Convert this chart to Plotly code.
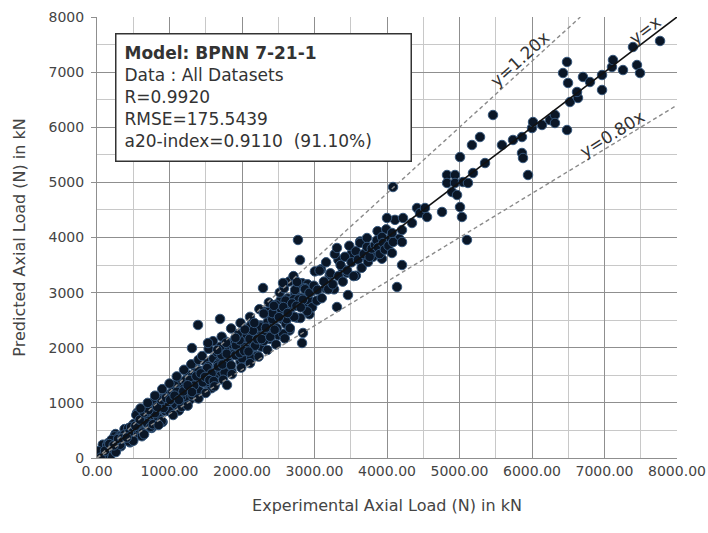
import plotly.graph_objects as go

# Dense band of observations, 0-3000 kN (experimental vs predicted)
exp_band = [30, 55, 80, 105, 130, 155, 180, 205, 230, 255, 280, 305, 330, 355, 380, 405, 430, 455, 480, 505,
            530, 555, 580, 605, 630, 655, 680, 705, 730, 755, 780, 805, 830, 855, 880, 905, 930, 955, 980, 1005,
            1030, 1055, 1080, 1105, 1130, 1155, 1180, 1205, 1230, 1255, 1280, 1305, 1330, 1355, 1380, 1405, 1430, 1455, 1480, 1505,
            1530, 1555, 1580, 1605, 1630, 1655, 1680, 1705, 1730, 1755, 1780, 1805, 1830, 1855, 1880, 1905, 1930, 1955, 1980, 2005,
            2030, 2055, 2080, 2105, 2130, 2155, 2180, 2205, 2230, 2255, 2280, 2305, 2330, 2355, 2380, 2405, 2430, 2455, 2480, 2505,
            2530, 2555, 2580, 2605, 2630, 2655, 2680, 2705, 2730, 2755, 2780, 2805, 2830, 2855, 2880, 2905, 2930, 2955, 2980, 3005,
            42, 92, 142, 192, 242, 292, 342, 392, 442, 492, 542, 592, 642, 692, 742, 792, 842, 892, 942, 992,
            1017, 1067, 1117, 1167, 1217, 1267, 1317, 1367, 1417, 1467, 1517, 1567, 1617, 1667, 1717, 1767, 1817, 1867, 1917, 1967,
            2017, 2067, 2117, 2167, 2217, 2267, 2317, 2367, 2417, 2467, 2517, 2567, 2617, 2667, 2717, 2767, 2817, 2867, 2917, 2967]
pred_band = [93, 10, 242, 78, 139, 272, 27, 250, 158, 435, 271, 395, 213, 382, 524, 351, 538, 284, 480, 617,
             390, 821, 524, 689, 462, 865, 708, 635, 884, 545, 1018, 777, 886, 729, 1076, 653, 1056, 857, 1148, 851,
             865, 1235, 975, 1240, 860, 1365, 1045, 1265, 1200, 1510, 1055, 1470, 1255, 1385, 1605, 1225, 1520, 1395, 1765, 1355,
             1662, 1555, 1266, 1803, 1531, 1919, 1730, 1490, 1895, 1738, 2110, 1673, 1913, 1574, 2095, 1922, 1880, 2252, 1749, 2121,
             2011, 2240, 1839, 2161, 2426, 2044, 2402, 1853, 2230, 2403, 2095, 2657, 2256, 2466, 2158, 2683, 2467, 2362, 2684, 2227,
             2853, 2517, 2656, 2434, 2896, 2313, 2851, 2572, 2958, 2546, 2913, 2539, 3172, 2798, 2899, 3152, 2607, 3050, 2828, 3385,
             5, 69, 240, 230, 392, 367, 365, 347, 299, 552, 780, 667, 830, 629, 554, 767, 729, 667, 854, 854,
             1115, 1319, 1131, 929, 1105, 1253, 1135, 1591, 1585, 1467, 1377, 1511, 1449, 1695, 1871, 2005, 1873, 2063, 2043, 2135,
             1835, 1951, 1820, 2018, 2184, 2019, 2234, 2615, 2516, 2781, 2649, 2253, 2518, 2717, 2882, 3097, 2900, 3082, 2867, 2736]

# Further observations filling the core of the band
exp_core = [20, 80, 140, 200, 260, 320, 380, 440, 500, 560, 620, 680, 740, 800, 860, 920, 980, 1040, 1100, 1160,
            1220, 1280, 1340, 1400, 1460, 1520, 1580, 1640, 1700, 1760, 1820, 1880, 1940, 2000, 2060, 2120, 2180, 2240, 2300, 2360,
            2420, 2480, 2540, 2600, 2660, 2720, 2780, 2840, 2900, 2960,
            50, 110, 170, 230, 290, 350, 410, 470, 530, 590, 650, 710, 770, 830, 890, 950, 1010, 1070, 1130, 1190,
            1250, 1310, 1370, 1430, 1490, 1550, 1610, 1670, 1730, 1790, 1850, 1910, 1970, 2030, 2090, 2150, 2210, 2270, 2330, 2390,
            2450, 2510, 2570, 2630, 2690, 2750, 2810, 2870, 2930, 2990,
            3030, 3090, 3150, 3210, 3270, 3330, 3390, 3450, 3510, 3570, 3630, 3690, 3750, 3810, 3870, 3930, 3990, 4050, 4110, 4170]
pred_core = [124, 16, 220, 328, 108, 240, 428, 456, 312, 610, 395, 830, 565, 813, 923, 907, 1018, 1190, 1200, 1110,
             1408, 1418, 1315, 1575, 1372, 1632, 1532, 1368, 2020, 1552, 1724, 1880, 2244, 1808, 1980, 2392, 2036, 2384, 2124, 2648,
             2628, 2352, 2700, 2856, 2356, 2560, 2876, 2872, 2660, 3024,
             8, 132, 253, 230, 345, 356, 371, 564, 583, 695, 825, 868, 612, 926, 1056, 1090, 1054, 1131, 1051, 1208,
             1320, 1196, 1484, 1535, 1472, 1415, 1396, 1659, 1696, 1891, 1681, 1865, 1902, 1940, 1932, 2308, 2154, 2157, 2364, 2199,
             2326, 2555, 2739, 2630, 2803, 2761, 2731, 3061, 2998, 3125,
             2855, 3423, 3080, 3315, 3060, 3593, 3425, 3362, 3703, 3307, 3928, 3655, 3820, 3652, 4115, 3615, 4148, 3927, 4320, 3977]

# Observations along the upper and lower edges of the band
exp_edge = [600, 700, 800, 900, 1000, 1100, 1200, 1300, 1400, 1450, 1540, 1600, 1660, 1720, 1780, 1850, 1910, 1980, 2040, 2110,
            2170, 2240, 2300, 2370, 2440, 2520, 2580, 2650, 2710,
            650, 850, 1050, 1250, 1400, 1500, 1620, 1740, 1860, 1990, 2110, 2230, 2350, 2470, 2590]
pred_edge = [900, 1000, 1130, 1250, 1350, 1480, 1600, 1700, 1780, 1850, 1980, 2120, 1960, 2200, 2090, 2350, 2180, 2450, 2330, 2560,
             2450, 2700, 2620, 2820, 2760, 3000, 3080, 3200, 3300,
             430, 600, 780, 950, 1080, 1180, 1300, 1420, 1520, 1640, 1720, 1840, 1960, 2060, 2170]

# Scattered observations in the mid range that sit away from the band
exp_mid = [1310, 1393, 1531, 1697, 1793, 2290, 2566, 2731, 2759, 2772, 2800, 2828, 2841, 3310]
pred_mid = [1995, 2413, 2086, 2522, 1324, 3084, 3175, 3048, 3193, 3955, 3592, 2086, 2268, 2739]

# Observations above 3000 kN
exp_high = [3040, 3070, 3100, 3130, 3160, 3190, 3220, 3250, 3280, 3310, 3330, 3360, 3390, 3420, 3450, 3462, 3480, 3510, 3540, 3570,
            3600, 3628, 3650, 3680, 3724, 3724, 3738, 3760, 3790, 3834, 3860, 3876, 3900, 3931, 3945, 3970, 4000, 4020, 4055, 4069,
            4069, 4083, 4083, 4138, 4207, 4207, 4207, 4221, 4345, 4414, 4455, 4524, 4552, 4759, 4828, 4938, 4828, 4938, 5048, 5117,
            4897, 4966, 5007, 5034, 5103, 5007, 5172, 5283, 5352, 5186, 5462, 5586, 5738, 5862, 5862, 5876, 5945, 6000, 6014, 6138,
            6248, 6317, 6317, 6483, 6428, 6483, 6497, 6524, 6634, 6621, 6703, 6800, 6966, 6966, 7103, 7117, 7255, 7393, 7448, 7490,
            7766]
pred_high = [3050, 3400, 2900, 3200, 3550, 3060, 3350, 3150, 3700, 3810, 3300, 3500, 3200, 3650, 3400, 2957, 3850, 3550, 3300, 3750,
             3600, 3900, 3450, 3700, 3991, 3828, 3556, 3650, 3800, 3864, 3950, 3820, 3700, 4009, 3900, 3780, 4354, 3850, 3980, 4082,
             3719, 3918, 4916, 3102, 4136, 3918, 3501, 4354, 4263, 4535, 4444, 4535, 4372, 4463, 5134, 5134, 4989, 4989, 5007, 4989,
             4825, 4771, 4553, 4372, 3955, 5460, 5678, 5823, 5351, 5170, 6222, 5678, 5769, 5823, 5533, 5442, 5134, 5986, 6095, 6041,
             6131, 6222, 6077, 5950, 6984, 7184, 6803, 6458, 6531, 6640, 6912, 6821, 6948, 6676, 7093, 7220, 7038, 7456, 7129, 6984,
             7565]

# Reference lines y = k * x
ref_slopes = [1.0, 1.2, 0.8]
ref_labels = ["y=x", "y=1.20x", "y=0.80x"]
axis_max = 8000

stats_text = ["<b>Model: BPNN 7-21-1</b>", "Data : All Datasets", "R=0.9920",
              "RMSE=175.5439", "a20-index=0.9110  (91.10%)"]

FONT = "DejaVu Sans"

x_all = exp_band + exp_core + exp_edge + exp_mid + exp_high
y_all = pred_band + pred_core + pred_edge + pred_mid + pred_high

fig = go.Figure()

fig.add_trace(go.Scatter(
    x=x_all, y=y_all, mode="markers",
    marker=dict(size=9.5, color="#0a1626", line=dict(color="#34557a", width=1)),
    showlegend=False, hoverinfo="skip"))

for k in ref_slopes:
    x_end = min(axis_max, axis_max / k)
    solid = k == 1.0
    fig.add_trace(go.Scatter(
        x=[0, x_end], y=[0, k * x_end], mode="lines",
        line=dict(color="#111111" if solid else "#8a8a8a",
                  width=1.6 if solid else 1.4,
                  dash="solid" if solid else "4px,3px"),
        showlegend=False, hoverinfo="skip"))

# Line labels placed along each reference line
label_pos = {"y=x": (7560, 7760, -37), "y=1.20x": (5834, 7230, -42), "y=0.80x": (7103, 5880, -32)}
for lab in ref_labels:
    lx, ly, ang = label_pos[lab]
    fig.add_annotation(x=lx, y=ly, text=lab, showarrow=False, textangle=ang,
                       font=dict(family=FONT, size=17, color="#333333"))

fig.add_annotation(
    xref="paper", yref="paper", x=0.031, y=0.9637, xanchor="left", yanchor="top",
    text="<br>".join(stats_text), showarrow=False, align="left", valign="top",
    width=278, height=110, borderpad=8, borderwidth=1.5, bordercolor="#333333",
    bgcolor="white", font=dict(family=FONT, size=17, color="#333333"))

fig.update_layout(
    width=708, height=533, margin=dict(l=97, r=31, t=17, b=75),
    paper_bgcolor="white", plot_bgcolor="white",
    font=dict(family=FONT, color="#444444"),
    xaxis=dict(range=[0, axis_max], dtick=1000, tickformat=".2f",
               showgrid=True, gridcolor="#8f8f8f", gridwidth=1,
               minor=dict(dtick=500, showgrid=True, gridcolor="#c8c8c8", gridwidth=1),
               showline=True, linecolor="#8f8f8f", linewidth=1, zeroline=False,
               ticks="", tickfont=dict(family=FONT, size=14, color="#444444"),
               title=dict(text="Experimental Axial Load (N) in kN", standoff=22,
                          font=dict(family=FONT, size=16, color="#444444")),
               automargin=False),
    yaxis=dict(range=[0, axis_max], dtick=1000, tickformat="d",
               showgrid=True, gridcolor="#8f8f8f", gridwidth=1,
               minor=dict(dtick=500, showgrid=True, gridcolor="#c8c8c8", gridwidth=1),
               showline=True, linecolor="#8f8f8f", linewidth=1, zeroline=False,
               ticks="outside", ticklen=5, tickcolor="#8f8f8f", ticklabelstandoff=4,
               tickfont=dict(family=FONT, size=14, color="#444444"),
               title=dict(text="Predicted Axial Load (N) in kN", standoff=18,
                          font=dict(family=FONT, size=16, color="#444444")),
               automargin=False),
)

fig.write_html("out.html")
